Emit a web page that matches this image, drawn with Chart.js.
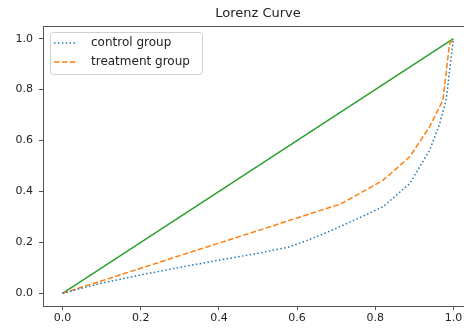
<!DOCTYPE html>
<html>
<head>
<meta charset="utf-8">
<script src="https://cdn.jsdelivr.net/npm/chart.js@4.4.1/dist/chart.umd.min.js"></script>
<style>
  html, body { margin: 0; padding: 0; background: #fff; overflow: hidden; }
  #wrap { width: 480px; height: 330px; }
</style>
</head>
<body>
<div id="wrap"><canvas id="lorenzChart"></canvas></div>
<script>
// Datos
const controlX = [0, 0.1, 0.2, 0.3, 0.4, 0.5, 0.58, 0.65, 0.7, 0.75, 0.82, 0.888, 0.939, 0.965, 0.982, 0.99, 1.0];
const controlY = [0, 0.04, 0.072, 0.102, 0.13, 0.157, 0.182, 0.222, 0.255, 0.29, 0.34, 0.431, 0.562, 0.667, 0.765, 0.876, 1.0];

const treatmentX = [0, 0.1, 0.2, 0.3, 0.4, 0.5, 0.6, 0.71, 0.76, 0.82, 0.888, 0.939, 0.973, 0.982, 0.99, 1.0];
const treatmentY = [0, 0.049, 0.098, 0.148, 0.197, 0.246, 0.296, 0.35, 0.392, 0.444, 0.536, 0.654, 0.758, 0.876, 0.98, 1.0];

const equalityX = [0, 1];
const equalityY = [0, 1];

const xTicks = [0, 0.2, 0.4, 0.6, 0.8, 1.0];
const yTicks = [0, 0.2, 0.4, 0.6, 0.8, 1.0];

const chartTitle = 'Lorenz Curve';

const toPoints = (xs, ys) => xs.map((x, i) => ({ x: x, y: ys[i] }));

Chart.defaults.font.family = "'DejaVu Sans', sans-serif";
Chart.defaults.color = '#222';

// Borde superior y título centrado sobre el eje
const framePlugin = {
    id: 'frame',
    afterDatasetsDraw(chart) {
        const { ctx, chartArea: a } = chart;
        ctx.save();
        ctx.strokeStyle = '#555';
        ctx.lineWidth = 1;
        ctx.beginPath();
        ctx.moveTo(a.left, a.top + 0.5);
        ctx.lineTo(a.right, a.top + 0.5);
        ctx.stroke();
        ctx.font = "13px 'DejaVu Sans'";
        ctx.fillStyle = '#222';
        ctx.textAlign = 'center';
        ctx.textBaseline = 'middle';
        ctx.fillText(chartTitle, (a.left + a.right) / 2, 13.5);
        ctx.restore();
    }
};

// Leyenda dentro del área
const insideLegend = {
    id: 'insideLegend',
    afterDatasetsDraw(chart) {
        const { ctx, chartArea: a } = chart;
        const items = chart.data.datasets.filter(d => d.label);
        const x0 = a.left + 7, y0 = a.top + 6;
        const w = 152, h = 42;
        ctx.save();
        ctx.fillStyle = 'rgba(255,255,255,0.85)';
        ctx.strokeStyle = '#d0d0d0';
        ctx.lineWidth = 1;
        ctx.beginPath();
        ctx.roundRect(x0 + 0.5, y0 + 0.5, w, h, 3);
        ctx.fill();
        ctx.stroke();
        ctx.font = "12px 'DejaVu Sans'";
        ctx.textBaseline = 'middle';
        items.forEach((d, i) => {
            const y = y0 + 11 + i * 19;
            ctx.strokeStyle = d.borderColor;
            ctx.lineWidth = d.borderWidth;
            ctx.setLineDash(d.borderDash || []);
            ctx.beginPath();
            ctx.moveTo(x0 + 4, y);
            ctx.lineTo(x0 + 27, y);
            ctx.stroke();
            ctx.setLineDash([]);
            ctx.fillStyle = '#222';
            ctx.fillText(d.label, x0 + 41, y);
        });
        ctx.restore();
    }
};

const ctx = document.getElementById('lorenzChart').getContext('2d');

new Chart(ctx, {
    type: 'line',
    data: {
        datasets: [
            {
                label: 'control group',
                data: toPoints(controlX, controlY),
                borderColor: '#1f77b4',
                borderWidth: 1.5,
                borderDash: [1.5, 2.4],
                borderCapStyle: 'butt',
                pointRadius: 0,
                tension: 0,
                fill: false
            },
            {
                label: 'treatment group',
                data: toPoints(treatmentX, treatmentY),
                borderColor: '#ff7f0e',
                borderWidth: 1.5,
                borderDash: [5.5, 2.4],
                borderCapStyle: 'butt',
                pointRadius: 0,
                tension: 0,
                fill: false
            },
            {
                label: '',
                data: toPoints(equalityX, equalityY),
                borderColor: '#2ca02c',
                borderWidth: 1.5,
                pointRadius: 0,
                tension: 0,
                fill: false
            }
        ]
    },
    options: {
        responsive: true,
        maintainAspectRatio: false,
        animation: false,
        layout: { padding: { left: 0, right: 7, top: 26, bottom: 0 } },
        plugins: {
            legend: { display: false },
            tooltip: { enabled: false },
            title: { display: false }
        },
        scales: {
            x: {
                type: 'linear',
                min: -0.05,
                max: 1.05,
                afterBuildTicks: axis => { axis.ticks = xTicks.map(v => ({ value: v })); },
                afterFit: scale => { scale.height = 24; },
                ticks: {
                    callback: v => v.toFixed(1),
                    font: { size: 11 },
                    color: '#222',
                    padding: 2,
                    maxRotation: 0
                },
                grid: { drawOnChartArea: false, drawTicks: true, tickLength: 4, color: '#555', lineWidth: 1 },
                border: { display: true, color: '#555', width: 1 }
            },
            y: {
                type: 'linear',
                min: -0.05,
                max: 1.05,
                afterBuildTicks: axis => { axis.ticks = yTicks.map(v => ({ value: v })); },
                afterFit: scale => { scale.width = 43; },
                ticks: {
                    callback: v => v.toFixed(1),
                    font: { size: 11 },
                    color: '#222',
                    padding: 6
                },
                grid: { drawOnChartArea: false, drawTicks: true, tickLength: 4, color: '#555', lineWidth: 1 },
                border: { display: true, color: '#555', width: 1 }
            }
        }
    },
    plugins: [framePlugin, insideLegend]
});
</script>
</body>
</html>
